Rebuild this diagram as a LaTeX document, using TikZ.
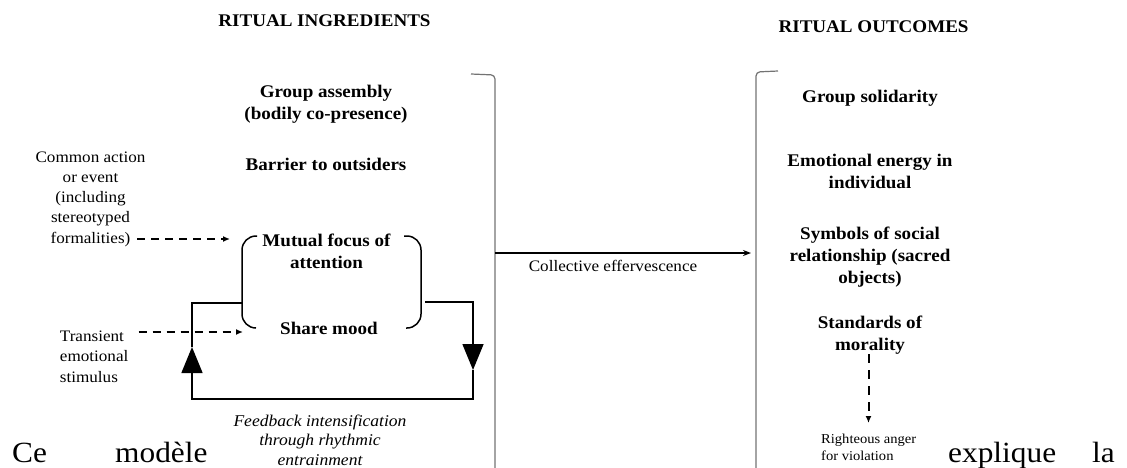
\documentclass[tikz,border=0pt]{standalone}
\usepackage{fontspec}
\setmainfont{Liberation Serif}[FakeStretch=1.07]
\usetikzlibrary{arrows.meta}

\begin{document}
\begin{tikzpicture}[x=1pt,y=-1pt,
  % multi-line nodes are placed by the baseline of their last line
  lbl/.style={font=\fontsize{17.8}{22.5}\selectfont\bfseries, align=center, anchor=base, inner sep=0pt},
  head/.style={font=\fontsize{17.8}{22}\selectfont\bfseries, anchor=base, inner sep=0pt},
  note/.style={font=\fontsize{16}{20.2}\selectfont, anchor=base, inner sep=0pt},
  feed/.style={font=\fontsize{16.4}{19.7}\selectfont\itshape, align=center, anchor=base, inner sep=0pt},
  small/.style={font=\fontsize{13.6}{16.7}\selectfont, align=left, anchor=base west, inner sep=0pt},
  body/.style={font=\fontsize{29.3}{34}\selectfont, anchor=base west, inner sep=0pt},
  loopline/.style={line width=1.5pt},
  bigtri/.style={-{Triangle[length=26pt,width=21pt]}},
  dasharrow/.style={line width=2pt, dash pattern=on 8pt off 6pt, -{Latex[length=7pt,width=6pt]}},
  frame/.style={black!55, line width=1.2pt, rounded corners=4pt},
  curly/.style={line width=1.5pt, rounded corners=14pt}
]
\useasboundingbox (0,0) rectangle (1127,467);
\clip (0,0) rectangle (1127,467);

% column headings
\node[head] (hin)  at (324.5,26) {RITUAL INGREDIENTS};
\node[head] (hout) at (873.6,32) {RITUAL OUTCOMES};

% ingredients
\node[lbl] (assembly) at (326,119.8)   {Group assembly\\(bodily co-presence)};
\node[lbl] (barrier)  at (326,170.5)   {Barrier to outsiders};
\node[lbl] (focus)    at (326.5,268.5) {Mutual focus of\\attention};
\node[lbl] (mood)     at (329,334.5)   {Share mood};

% outcomes
\node[lbl] (solid)    at (870,102)   {Group solidarity};
\node[lbl] (energy)   at (870,188.8) {Emotional energy in\\individual};
\node[lbl, font=\fontsize{17.8}{22}\selectfont\bfseries] (symbols) at (870,283)
  {Symbols of social\\relationship (sacred\\objects)};
\node[lbl] (morality) at (870,350.8) {Standards of\\morality};

% side notes
\node[note, align=center] (common) at (90.5,243)
  {Common action\\or event\\(including\\stereotyped\\formalities)};
\node[note, align=left, anchor=base west] (transient) at (59.7,382)
  {Transient\\emotional\\stimulus};
\node[note] (collective) at (613,271) {Collective effervescence};
\node[feed] (feedback) at (320,465.5)
  {Feedback intensification\\through rhythmic\\entrainment};
\node[small] (anger) at (821,460) {Righteous anger\\for violation};

% running text line
\node[body] (ce)       at (12,462.5)   {Ce};
\node[body] (modele)   at (115,462.5)  {modèle};
\node[body] (explique) at (948,462.5)  {explique};
\node[body] (la)       at (1092,462.5) {la};

% side brackets of the two columns
\draw[frame] (471,74) -- (495,75) -- (495,480);
\draw[frame] (778,71) -- (756,72) -- (756,480);

% round brackets around focus and mood
\draw[curly] (257,236) -- (242,236) -- (242,328) -- (256,328);
\draw[curly] (404,236) -- (421,236) -- (421,328) -- (406,328);

% feedback loop
\coordinate (rs)   at (425,302);
\coordinate (rt)   at (473,302);
\coordinate (rtip) at (473,370);
\coordinate (rb)   at (473,399);
\coordinate (lb)   at (192,399);
\coordinate (ltip) at (192,347);
\coordinate (lt)   at (192,303);
\coordinate (le)   at (242,303);
\draw[loopline, bigtri] (rs) -- (rt) -- (rtip);
\draw[loopline, bigtri] (rtip) -- (rb) -- (lb) -- (ltip);
\draw[loopline] (ltip) -- (lt) -- (le);

% inputs
\coordinate (c0) at (137,239);
\coordinate (c1) at (230,239);
\draw[dasharrow] (c0) -- (c1);
\coordinate (t0) at (138.7,332);
\coordinate (t1) at (243,332);
\draw[dasharrow] (t0) -- (t1);

% collective effervescence
\coordinate (e0) at (495,253);
\coordinate (e1) at (751,253);
\draw[line width=1.5pt, -{Stealth[length=8pt,width=6pt]}] (e0) -- (e1);

% morality to anger
\coordinate (m0) at (868.5,354);
\coordinate (m1) at (868.5,423);
\draw[line width=2pt, dash pattern=on 9pt off 7pt, -{Latex[length=7pt,width=6pt]}] (m0) -- (m1);
\end{tikzpicture}
\end{document}
